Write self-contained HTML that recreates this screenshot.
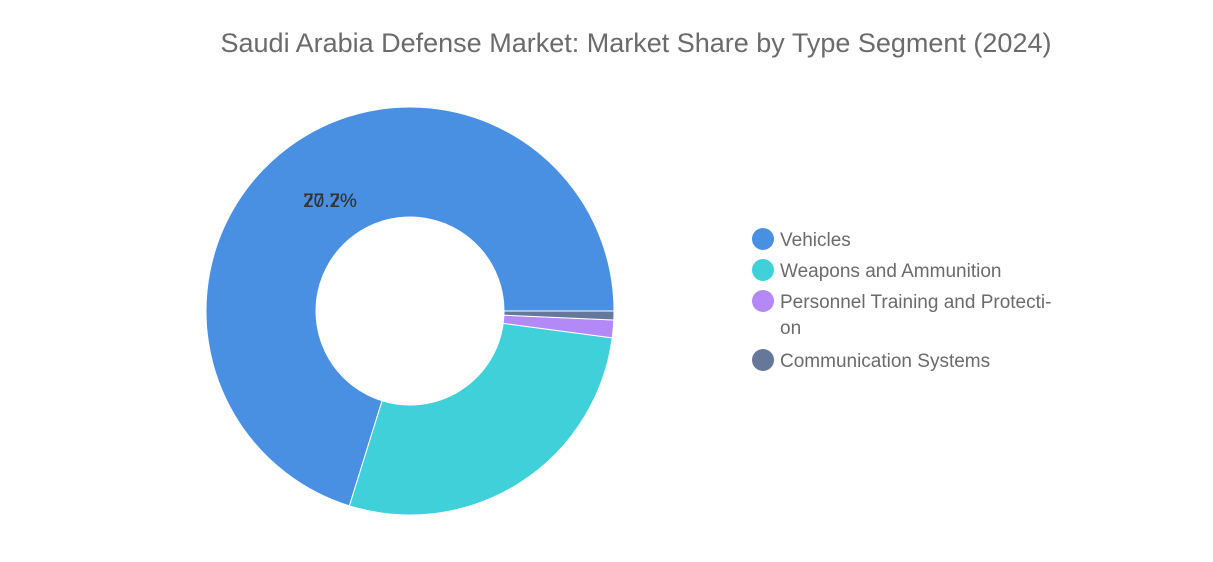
<!DOCTYPE html>
<html><head><meta charset="utf-8"><style>
body{margin:0;background:#fff;font-family:"Liberation Sans",sans-serif;}
svg{display:block}
</style></head><body>
<svg width="1213" height="562">
<text x="636" y="52" text-anchor="middle" font-size="27" fill="#6b6b6b">Saudi Arabia Defense Market: Market Share by Type Segment (2024)</text>
<g id="slices"></g>
<g id="legend"></g>
</svg>
<script>
const categories=["Vehicles","Weapons and Ammunition","Personnel Training and Protection","Communication Systems"];
const values=[70.2,27.7,1.4,0.7];
const colors=["#4a90e2","#3fd0d9","#b388f7","#667799"];
const cx=410,cy=311,R=204,r=94;
const ns="http://www.w3.org/2000/svg";
const g=document.getElementById("slices");
const total=values.reduce((a,b)=>a+b,0);
function pt(a,rad){return [cx+rad*Math.sin(a),cy-rad*Math.cos(a)];}
let ang=Math.PI/2;
values.forEach((v,i)=>{
  const sweep=v/total*2*Math.PI;
  const a0=ang,a1=ang-sweep;
  const large=sweep>Math.PI?1:0;
  const [x0,y0]=pt(a0,R),[x1,y1]=pt(a1,R),[x2,y2]=pt(a1,r),[x3,y3]=pt(a0,r);
  const p=document.createElementNS(ns,"path");
  p.setAttribute("d",`M${x0},${y0}A${R},${R} 0 ${large} 0 ${x1},${y1}L${x2},${y2}A${r},${r} 0 ${large} 1 ${x3},${y3}Z`);
  p.setAttribute("fill",colors[i]);
  p.setAttribute("stroke","#fff");p.setAttribute("stroke-width","1");
  
  
  g.appendChild(p);
  if(v>10){
    const mid=(a0+a1)/2+0.0;
    const [lx,ly]=pt(a0-sweep*0.28,(R+r)/2+20);
    const t=document.createElementNS(ns,"text");
    t.setAttribute("x",330);t.setAttribute("y",207);
    t.setAttribute("text-anchor","middle");t.setAttribute("font-size","19");t.setAttribute("fill","#333");
    t.textContent=v.toFixed(1)+"%";
    
    
    g.appendChild(t);
  }
  ang=a1;
});
const lg=document.getElementById("legend");
const ly=[239,270,301,360];
categories.forEach((c,i)=>{
  const e=document.createElementNS(ns,"g");
  
  
  const ci=document.createElementNS(ns,"circle");
  ci.setAttribute("cx",763);ci.setAttribute("cy",ly[i]);ci.setAttribute("r",11);ci.setAttribute("fill",colors[i]);
  e.appendChild(ci);
  const t=document.createElementNS(ns,"text");
  t.setAttribute("x",780);t.setAttribute("y",ly[i]+7);t.setAttribute("font-size","19");t.setAttribute("fill","#6b6b6b");
  if(i===2){
    t.textContent="Personnel Training and Protecti-";
    const t2=document.createElementNS(ns,"text");
    t2.setAttribute("x",780);t2.setAttribute("y",ly[i]+33);t2.setAttribute("font-size","19");t2.setAttribute("fill","#6b6b6b");
    t2.textContent="on";
    e.appendChild(t);e.appendChild(t2);
  } else {t.textContent=c;e.appendChild(t);}
  lg.appendChild(e);
});
</script>
</body></html>
